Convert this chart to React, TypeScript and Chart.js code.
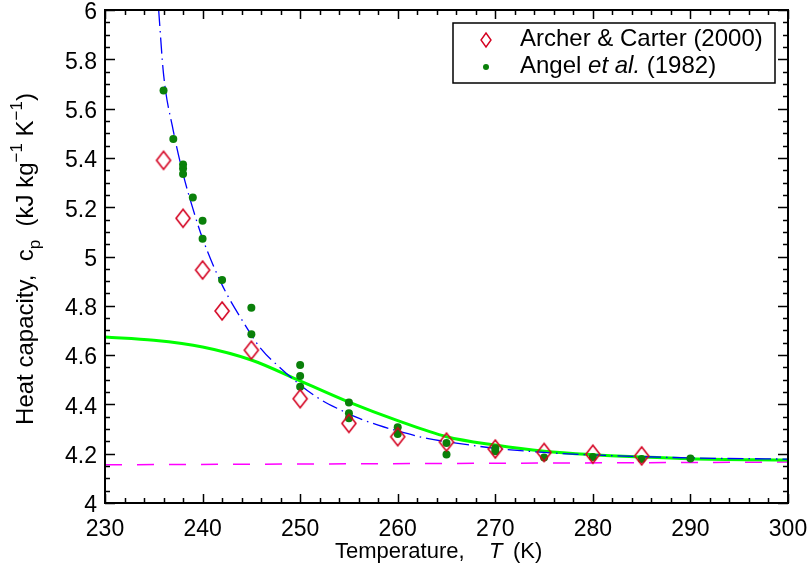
import { useEffect, useRef } from "react";
import { Chart, registerables } from "chart.js";
Chart.register(...registerables);

// Archer & Carter (2000)
const archerT = [236, 238, 240, 242, 245, 250, 255, 260, 265, 270, 275, 280, 285];
const archerCp = [5.39, 5.155, 4.945, 4.779, 4.62, 4.423, 4.323, 4.269, 4.247, 4.219, 4.205, 4.198, 4.191];

// Angel et al. (1982)
const angelT = [236, 237, 238, 238, 238, 239, 240, 240, 242, 245, 245, 250, 250, 250, 255, 255, 255, 260, 260, 265, 265, 270, 270, 275, 280, 285, 290];
const angelCp = [5.673, 5.477, 5.373, 5.357, 5.335, 5.239, 5.145, 5.072, 4.905, 4.792, 4.685, 4.56, 4.515, 4.472, 4.408, 4.364, 4.344, 4.307, 4.28, 4.243, 4.197, 4.222, 4.21, 4.185, 4.187, 4.178, 4.181];

// blue dash-dot fit
const fitT = [235.5, 236, 237, 238, 239, 240, 242, 244, 246, 248, 250, 252, 254, 256, 258, 260, 263, 266, 270, 275, 280, 290, 300];
const fitCp = [6.0, 5.74, 5.51, 5.335, 5.195, 5.073, 4.885, 4.745, 4.625, 4.547, 4.479, 4.422, 4.38, 4.344, 4.316, 4.292, 4.262, 4.243, 4.222, 4.205, 4.195, 4.183, 4.178];

// green solid model
const modelT = [230, 235, 240, 245, 250, 255, 260, 265, 270, 275, 280, 285, 290, 300];
const modelCp = [4.673, 4.66, 4.633, 4.58, 4.495, 4.409, 4.334, 4.269, 4.235, 4.21, 4.196, 4.187, 4.18, 4.174];

// magenta dashed reference
const refT = [230, 300];
const refCp = [4.155, 4.166];

const xMin = 230, xMax = 300, xStep = 10, xMinor = 2;
const yMin = 4, yMax = 6, yStep = 0.2, yMinor = 0.05;

const FONT = "'Liberation Sans', Arial, Helvetica, sans-serif";

function pts(xs: number[], ys: number[]) {
  return xs.map((x, i) => ({ x, y: ys[i] }));
}

function makeDiamond(w: number, h: number, lw: number) {
  const c = document.createElement("canvas");
  c.width = w + 4;
  c.height = h + 4;
  const g = c.getContext("2d")!;
  g.strokeStyle = "#d40020";
  g.lineWidth = lw;
  const cx = (w + 4) / 2, cy = (h + 4) / 2;
  g.beginPath();
  g.moveTo(cx, cy - h / 2);
  g.lineTo(cx + w / 2, cy);
  g.lineTo(cx, cy + h / 2);
  g.lineTo(cx - w / 2, cy);
  g.closePath();
  g.stroke();
  return c;
}

type Seg = { t: string; f: string; dy?: number };

function drawRich(ctx: CanvasRenderingContext2D, segs: Seg[], x: number, y: number, align: "left" | "center") {
  let total = 0;
  const ws = segs.map((s) => {
    ctx.font = s.f;
    const w = ctx.measureText(s.t).width;
    total += w;
    return w;
  });
  let cx = align === "center" ? x - total / 2 : x;
  ctx.textAlign = "left";
  ctx.textBaseline = "alphabetic";
  segs.forEach((s, i) => {
    ctx.font = s.f;
    ctx.fillText(s.t, cx, y + (s.dy || 0));
    cx += ws[i];
  });
}

const framePlugin = {
  id: "frame",
  afterDraw(chart: any) {
    const ctx: CanvasRenderingContext2D = chart.ctx;
    const { left, right, top, bottom } = chart.chartArea;
    const xs = chart.scales.x;
    const ys = chart.scales.y;
    ctx.save();
    ctx.strokeStyle = "#000";
    ctx.fillStyle = "#000";
    // ticks
    ctx.lineWidth = 1.5;
    ctx.beginPath();
    for (let v = xMin; v <= xMax + 1e-9; v += xMinor) {
      const px = Math.round(xs.getPixelForValue(v)) + 0.5;
      const major = Math.abs(v / xStep - Math.round(v / xStep)) < 1e-6;
      const len = major ? 9 : 5;
      ctx.moveTo(px, bottom);
      ctx.lineTo(px, bottom - len);
      ctx.moveTo(px, top);
      ctx.lineTo(px, top + len);
    }
    for (let v = yMin; v <= yMax + 1e-9; v += yMinor) {
      const py = Math.round(ys.getPixelForValue(v)) + 0.5;
      const r = v / yStep;
      const major = Math.abs(r - Math.round(r)) < 1e-6;
      const len = major ? 10 : 5;
      ctx.moveTo(left, py);
      ctx.lineTo(left + len, py);
      ctx.moveTo(right, py);
      ctx.lineTo(right - len, py);
    }
    ctx.stroke();
    // frame
    ctx.lineWidth = 2;
    ctx.strokeRect(left, top, right - left, bottom - top);

    // legend
    const lx = right - 335, ly = top + 13, lw = 322, lh = 60;
    ctx.fillStyle = "#fff";
    ctx.fillRect(lx, ly, lw, lh);
    ctx.lineWidth = 1.5;
    ctx.strokeStyle = "#000";
    ctx.strokeRect(lx, ly, lw, lh);
    const dia = makeDiamond(10, 14, 1.4);
    ctx.drawImage(dia, lx + 33 - dia.width / 2, ly + 17 - dia.height / 2);
    ctx.fillStyle = "#0a800a";
    ctx.beginPath();
    ctx.arc(lx + 33, ly + 44, 3, 0, Math.PI * 2);
    ctx.fill();
    ctx.fillStyle = "#000";
    const nf = `24px ${FONT}`;
    const itf = `italic 24px ${FONT}`;
    drawRich(ctx, [{ t: "Archer & Carter (2000)", f: nf }], lx + 67, ly + 23, "left");
    drawRich(ctx, [{ t: "Angel ", f: nf }, { t: "et al.", f: itf }, { t: " (1982)", f: nf }], lx + 67, ly + 50, "left");

    // x title
    const xf = `22px ${FONT}`;
    drawRich(ctx, [{ t: "Temperature,", f: xf }], 335, 558, "left");
    drawRich(ctx, [{ t: "T", f: `italic 22px ${FONT}` }], 489, 558, "left");
    drawRich(ctx, [{ t: "(K)", f: xf }], 513, 558, "left");

    // y title
    ctx.translate(33, 259);
    ctx.rotate(-Math.PI / 2);
    const sf = `17px ${FONT}`;
    const yf = `24px ${FONT}`;
    drawRich(
      ctx,
      [
        { t: "Heat capacity,  ", f: yf },
        { t: "c", f: yf },
        { t: "p", f: sf, dy: 7 },
        { t: "  (kJ kg", f: yf },
        { t: "\u22121", f: sf, dy: -11 },
        { t: " K", f: yf },
        { t: "\u22121", f: sf, dy: -11 },
        { t: ")", f: yf },
      ],
      0,
      0,
      "center"
    );
    ctx.restore();
  },
};

export default function App() {
  const ref = useRef<HTMLCanvasElement | null>(null);
  useEffect(() => {
    const canvas = ref.current!;
    const diamond = makeDiamond(14, 18, 1.6);
    const tickFont = { family: FONT, size: 23 };
    const chart = new Chart(canvas, {
      type: "scatter",
      data: {
        datasets: [
          {
            label: "Archer & Carter (2000)",
            data: pts(archerT, archerCp),
            pointStyle: diamond as any,
            pointRadius: 9,
            showLine: false,
          },
          {
            label: "Angel et al. (1982)",
            data: pts(angelT, angelCp),
            pointStyle: "circle",
            pointRadius: 4,
            backgroundColor: "#0a800a",
            borderColor: "#0a800a",
            borderWidth: 0,
            showLine: false,
          },
          {
            label: "fit",
            data: pts(fitT, fitCp),
            showLine: true,
            pointRadius: 0,
            borderColor: "#0000ff",
            borderWidth: 1.3,
            borderDash: [16, 5, 1.5, 5],
            cubicInterpolationMode: "monotone",
            fill: false,
          },
          {
            label: "model",
            data: pts(modelT, modelCp),
            showLine: true,
            pointRadius: 0,
            borderColor: "#00ff00",
            borderWidth: 3,
            cubicInterpolationMode: "monotone",
            fill: false,
          },
          {
            label: "ref",
            data: pts(refT, refCp),
            showLine: true,
            pointRadius: 0,
            borderColor: "#ff00ff",
            borderWidth: 1.5,
            borderDash: [17, 15],
            fill: false,
          },
        ],
      },
      options: {
        animation: false,
        responsive: false,
        maintainAspectRatio: false,
        layout: { padding: { top: 10, right: 22, left: 0, bottom: 0 } },
        plugins: { legend: { display: false }, tooltip: { enabled: false } },
        scales: {
          x: {
            type: "linear",
            min: xMin,
            max: xMax,
            grid: { display: false, drawTicks: false },
            border: { display: false },
            ticks: { stepSize: xStep, font: tickFont, color: "#000", padding: 13, maxRotation: 0, autoSkip: false },
            afterFit: (s: any) => {
              s.height = 73;
              s.paddingLeft = 0;
              s.paddingRight = 0;
            },
          },
          y: {
            type: "linear",
            min: yMin,
            max: yMax,
            grid: { display: false, drawTicks: false },
            border: { display: false },
            ticks: {
              stepSize: yStep,
              font: tickFont,
              color: "#000",
              padding: 8,
              labelOffset: 3,
              autoSkip: false,
              callback: (v: any) => String(Number(Number(v).toFixed(2))),
            },
            afterFit: (s: any) => {
              s.width = 105;
              s.paddingTop = 0;
              s.paddingBottom = 0;
            },
          },
        },
      },
      plugins: [framePlugin],
    } as any);
    return () => chart.destroy();
  }, []);
  return (
    <div style={{ position: "absolute", left: 0, top: 0, width: 810, height: 576, background: "#fff" }}>
      <canvas ref={ref} width={810} height={576} style={{ display: "block" }} />
    </div>
  );
}
